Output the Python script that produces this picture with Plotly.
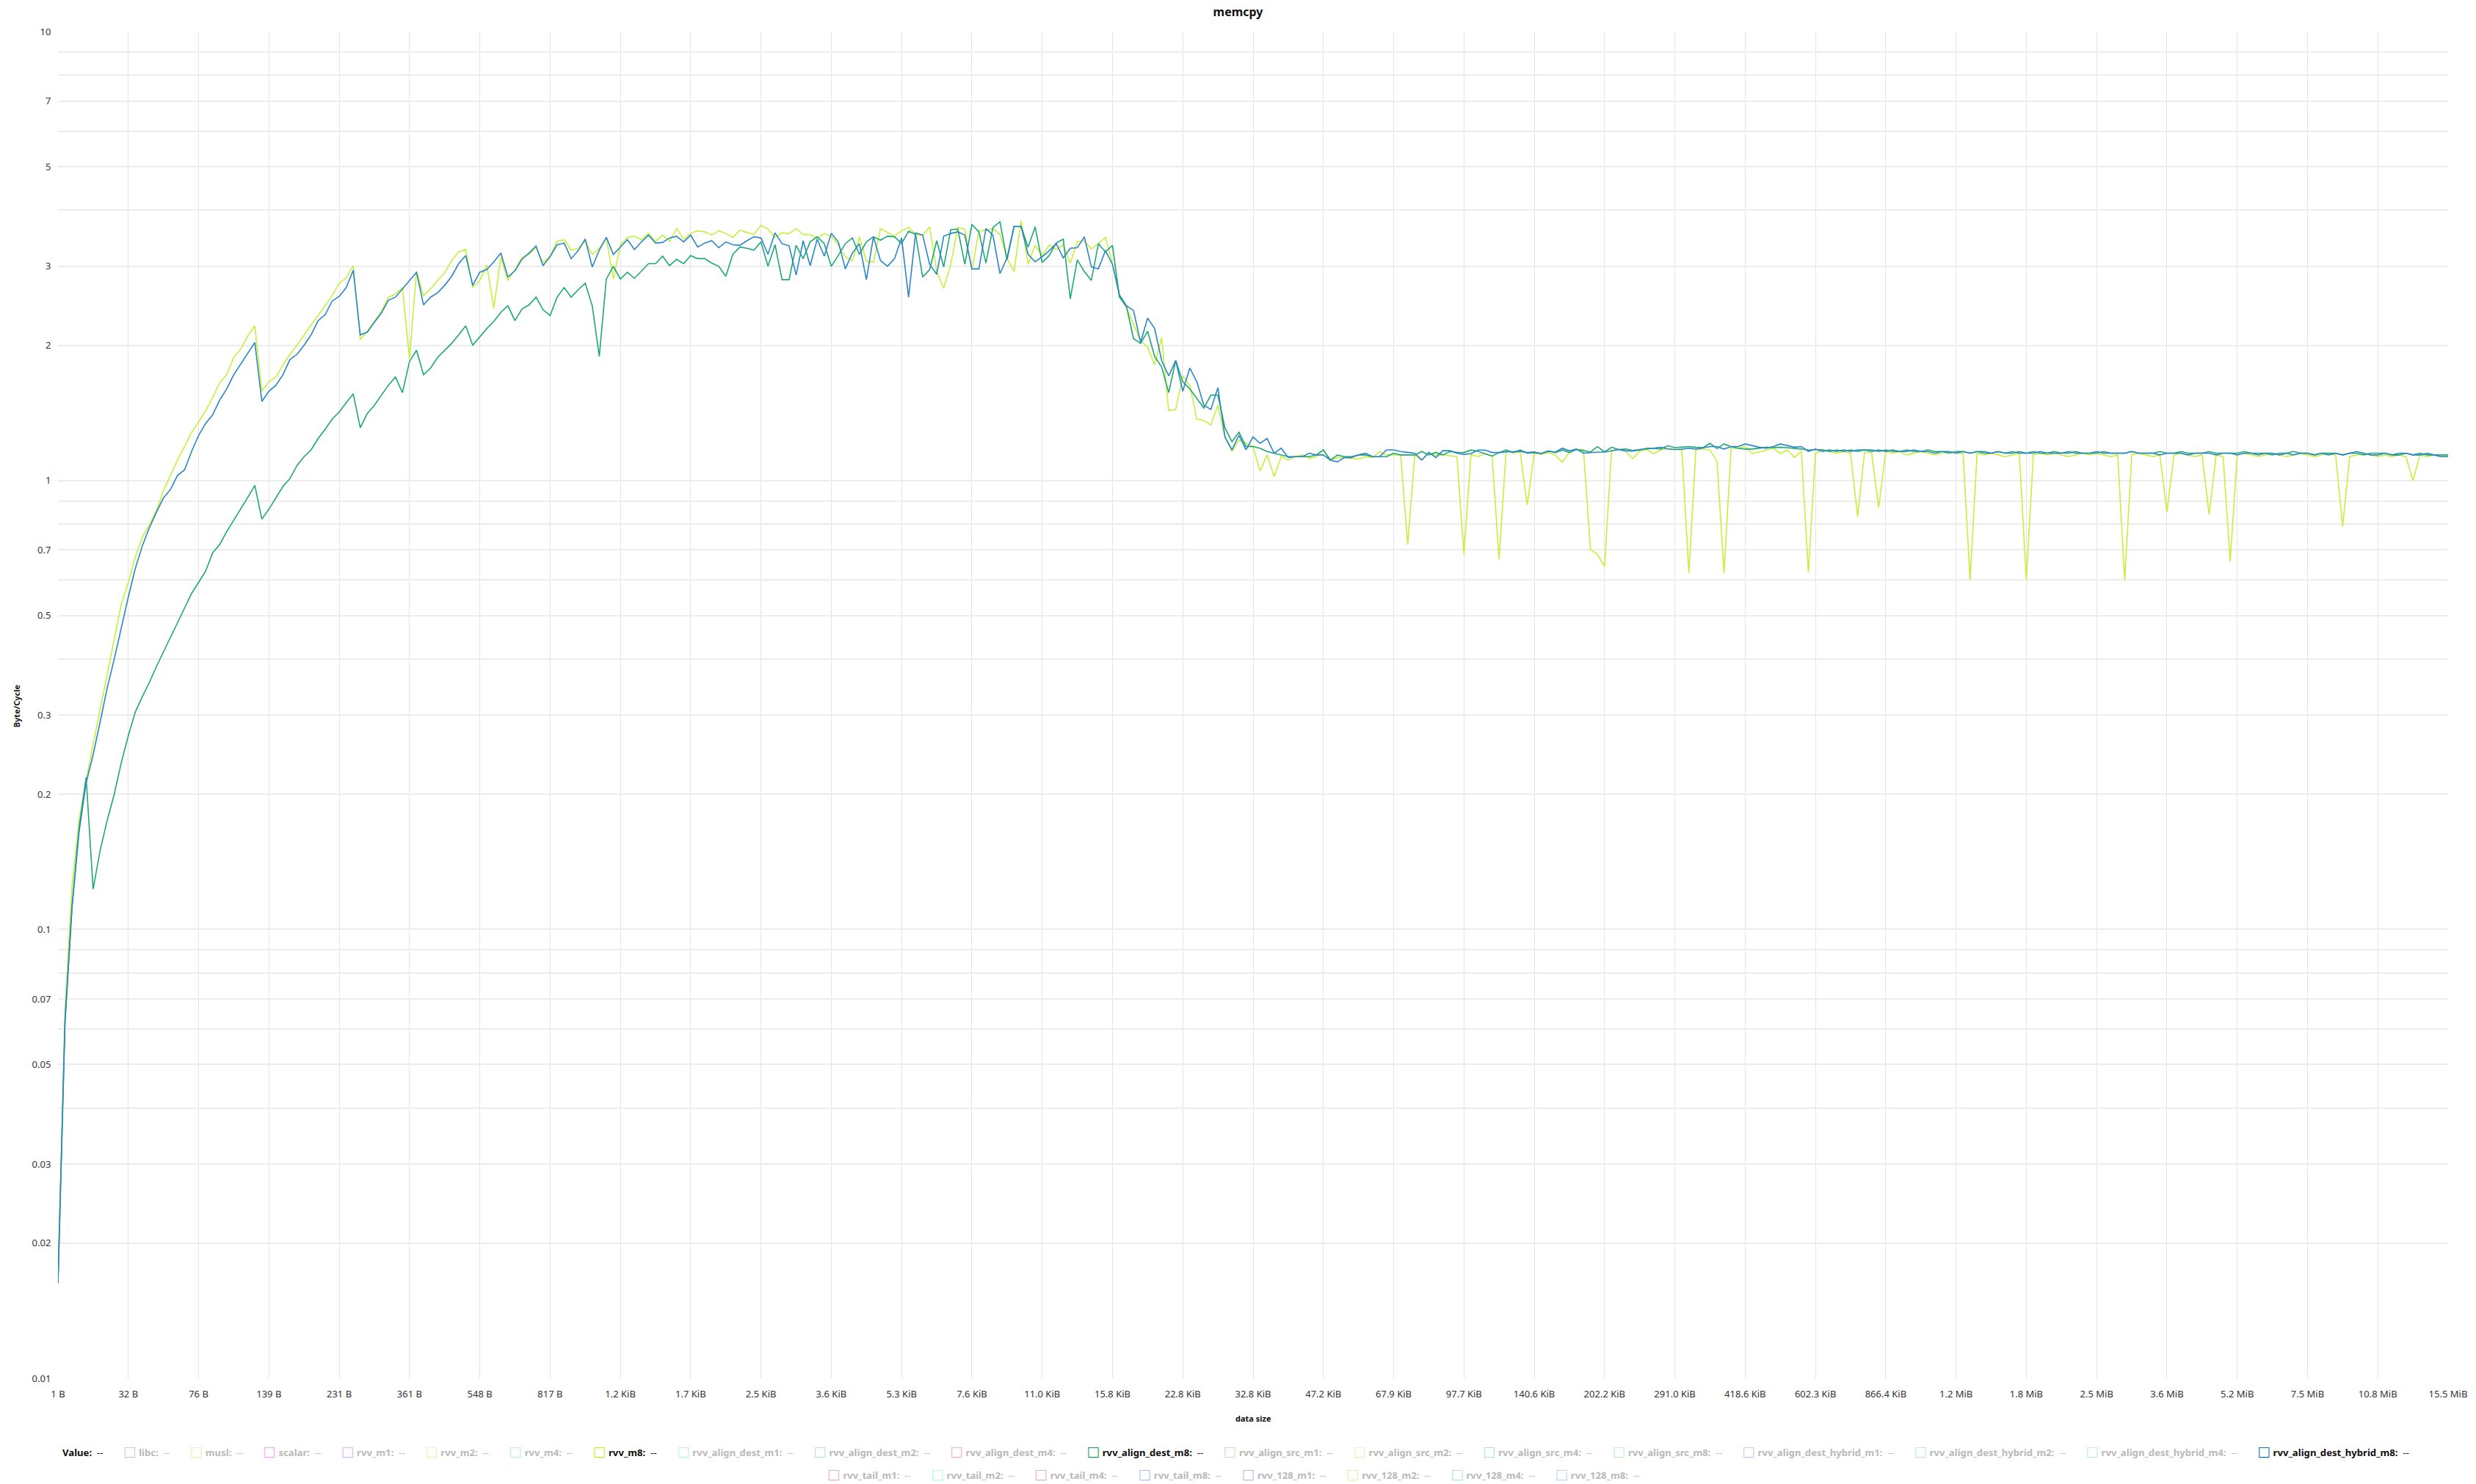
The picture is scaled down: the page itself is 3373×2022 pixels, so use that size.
import plotly.graph_objects as go

# ---------------- data ----------------
x_tick_labels = ["1 B", "32 B", "76 B", "139 B", "231 B", "361 B", "548 B", "817 B",
                 "1.2 KiB", "1.7 KiB", "2.5 KiB", "3.6 KiB", "5.3 KiB", "7.6 KiB", "11.0 KiB",
                 "15.8 KiB", "22.8 KiB", "32.8 KiB", "47.2 KiB", "67.9 KiB", "97.7 KiB",
                 "140.6 KiB", "202.2 KiB", "291.0 KiB", "418.6 KiB", "602.3 KiB", "866.4 KiB",
                 "1.2 MiB", "1.8 MiB", "2.5 MiB", "3.6 MiB", "5.2 MiB", "7.5 MiB", "10.8 MiB",
                 "15.5 MiB"]
points_per_label = 10

rvv_m8 = [
    0.0168, 0.066, 0.125, 0.175, 0.215, 0.26, 0.31, 0.37, 0.44, 0.53,
    0.593, 0.675, 0.747, 0.797, 0.857, 0.95, 1.026, 1.11, 1.19, 1.28,
    1.35, 1.43, 1.53, 1.65, 1.72, 1.88, 1.96, 2.10, 2.21, 1.58,
    1.66, 1.70, 1.81, 1.91, 2.00, 2.11, 2.22, 2.33, 2.45, 2.58,
    2.75, 2.83, 3.01, 2.06, 2.15, 2.26, 2.38, 2.56, 2.60, 2.69,
    1.87, 2.93, 2.58, 2.67, 2.79, 2.90, 3.09, 3.23, 3.27, 2.69,
    2.79, 3.02, 2.42, 3.14, 2.79, 2.95, 3.14, 3.19, 3.30, 3.06,
    3.16, 3.41, 3.44, 3.26, 3.29, 3.41, 3.19, 3.29, 3.47, 2.81,
    3.35, 3.48, 3.50, 3.44, 3.55, 3.41, 3.52, 3.41, 3.64, 3.45,
    3.55, 3.60, 3.58, 3.52, 3.60, 3.55, 3.48, 3.61, 3.57, 3.53,
    3.70, 3.63, 3.48, 3.56, 3.55, 3.64, 3.53, 3.53, 3.46, 3.55,
    3.49, 3.35, 3.15, 3.09, 3.49, 3.08, 3.06, 3.64, 3.57, 3.50,
    3.60, 3.66, 3.53, 3.52, 3.67, 2.92, 2.68, 3.03, 3.66, 3.63,
    2.94, 3.60, 3.61, 3.64, 3.53, 3.13, 2.92, 3.79, 3.03, 3.34,
    3.17, 3.35, 3.27, 3.35, 3.05, 3.40, 3.42, 3.28, 3.37, 3.48,
    3.05, 2.57, 2.42, 2.22, 2.05, 1.98, 1.81, 2.08, 1.43, 1.44,
    1.71, 1.63, 1.37, 1.36, 1.33, 1.47, 1.25, 1.16, 1.23, 1.21,
    1.19, 1.05, 1.14, 1.02, 1.13, 1.11, 1.13, 1.14, 1.12, 1.13,
    1.17, 1.11, 1.125, 1.125, 1.12, 1.115, 1.13, 1.125, 1.16, 1.14,
    1.14, 1.14, 0.72, 1.14, 1.11, 1.15, 1.14, 1.14, 1.135, 1.13,
    0.685, 1.143, 1.130, 1.148, 1.135, 0.668, 1.165, 1.154, 1.157, 0.882,
    1.150, 1.144, 1.154, 1.14, 1.098, 1.154, 1.172, 1.172, 0.703, 0.684,
    0.643, 1.169, 1.172, 1.161, 1.119, 1.161, 1.172, 1.148, 1.169, 1.178,
    1.172, 1.169, 0.622, 1.175, 1.175, 1.169, 1.104, 0.622, 1.18, 1.18,
    1.19, 1.148, 1.157, 1.169, 1.18, 1.148, 1.169, 1.126, 1.161, 0.624,
    1.148, 1.17, 1.16, 1.15, 1.16, 1.15, 0.83, 1.16, 1.15, 0.87,
    1.16, 1.15, 1.16, 1.14, 1.15, 1.16, 1.15, 1.14, 1.15, 1.16,
    1.15, 1.15, 0.60, 1.15, 1.14, 1.15, 1.14, 1.13, 1.14, 1.15,
    0.60, 1.14, 1.15, 1.14, 1.15, 1.14, 1.13, 1.14, 1.15, 1.14,
    1.15, 1.14, 1.13, 1.14, 0.60, 1.14, 1.15, 1.14, 1.13, 1.14,
    0.85, 1.14, 1.15, 1.14, 1.13, 1.14, 0.84, 1.14, 1.13, 0.66,
    1.14, 1.15, 1.14, 1.13, 1.14, 1.15, 1.14, 1.13, 1.14, 1.15,
    1.14, 1.13, 1.14, 1.15, 1.14, 0.79, 1.13, 1.14, 1.15, 1.14,
    1.13, 1.14, 1.13, 1.14, 1.13, 1.00, 1.14, 1.13, 1.14, 1.13,
    1.13,
]

rvv_align_dest_m8 = [
    0.0163, 0.063, 0.113, 0.168, 0.218, 0.123, 0.15, 0.175, 0.2, 0.235,
    0.27, 0.305, 0.33, 0.355, 0.385, 0.415, 0.45, 0.485, 0.522, 0.56,
    0.593, 0.628, 0.69, 0.72, 0.769, 0.815, 0.863, 0.917, 0.975, 0.82,
    0.863, 0.914, 0.97, 1.01, 1.08, 1.13, 1.17, 1.24, 1.30, 1.37,
    1.42, 1.49, 1.56, 1.31, 1.41, 1.47, 1.55, 1.63, 1.70, 1.57,
    1.84, 1.95, 1.72, 1.78, 1.88, 1.95, 2.02, 2.11, 2.21, 2.00,
    2.09, 2.18, 2.26, 2.37, 2.45, 2.27, 2.41, 2.46, 2.56, 2.40,
    2.33, 2.56, 2.69, 2.56, 2.66, 2.75, 2.45, 1.89, 2.81, 3.00,
    2.81, 2.91, 2.82, 2.93, 3.04, 3.04, 3.16, 3.01, 3.11, 3.04,
    3.17, 3.12, 3.12, 3.05, 3.00, 2.85, 3.19, 3.31, 3.29, 3.26,
    3.40, 3.00, 3.35, 2.80, 2.80, 3.34, 3.12, 3.40, 3.49, 3.37,
    3.00, 3.17, 3.37, 3.47, 3.19, 3.40, 3.49, 3.43, 3.50, 3.49,
    3.37, 3.59, 3.53, 2.84, 2.95, 3.42, 2.99, 3.62, 3.63, 3.03,
    3.72, 3.58, 3.05, 3.66, 3.77, 3.10, 3.68, 3.68, 3.31, 3.67,
    3.06, 3.17, 3.38, 3.45, 2.54, 3.10, 2.92, 2.79, 3.37, 3.23,
    3.34, 2.56, 2.44, 2.07, 2.02, 2.15, 1.89, 1.79, 1.57, 1.85,
    1.66, 1.60, 1.52, 1.45, 1.55, 1.55, 1.31, 1.22, 1.28, 1.19,
    1.19, 1.18, 1.16, 1.15, 1.14, 1.13, 1.13, 1.13, 1.13, 1.14,
    1.17, 1.11, 1.14, 1.13, 1.13, 1.14, 1.14, 1.13, 1.13, 1.13,
    1.15, 1.14, 1.14, 1.14, 1.16, 1.14, 1.155, 1.14, 1.16, 1.155,
    1.154, 1.169, 1.161, 1.148, 1.133, 1.154, 1.169, 1.154, 1.169, 1.15,
    1.154, 1.148, 1.164, 1.154, 1.169, 1.154, 1.172, 1.166, 1.157, 1.19,
    1.158, 1.186, 1.172, 1.175, 1.166, 1.172, 1.175, 1.18, 1.175, 1.195,
    1.183, 1.186, 1.19, 1.186, 1.183, 1.21, 1.178, 1.206, 1.19, 1.18,
    1.175, 1.175, 1.18, 1.186, 1.183, 1.186, 1.183, 1.18, 1.175, 1.169,
    1.172, 1.17, 1.16, 1.17, 1.16, 1.17, 1.16, 1.17, 1.17, 1.16,
    1.17, 1.16, 1.16, 1.17, 1.16, 1.16, 1.17, 1.16, 1.16, 1.15,
    1.16, 1.16, 1.15, 1.16, 1.16, 1.15, 1.16, 1.15, 1.16, 1.15,
    1.15, 1.16, 1.15, 1.15, 1.16, 1.15, 1.15, 1.16, 1.15, 1.15,
    1.15, 1.16, 1.15, 1.15, 1.15, 1.16, 1.15, 1.15, 1.15, 1.16,
    1.15, 1.15, 1.16, 1.15, 1.15, 1.15, 1.16, 1.15, 1.15, 1.15,
    1.15, 1.16, 1.15, 1.15, 1.15, 1.14, 1.15, 1.15, 1.16, 1.15,
    1.15, 1.14, 1.15, 1.15, 1.15, 1.14, 1.15, 1.15, 1.14, 1.15,
    1.15, 1.15, 1.14, 1.15, 1.15, 1.14, 1.15, 1.14, 1.14, 1.14,
    1.14,
]

rvv_align_dest_hybrid_m8 = [
    0.0163, 0.062, 0.112, 0.165, 0.212, 0.245, 0.29, 0.345, 0.40, 0.47,
    0.55, 0.637, 0.715, 0.785, 0.85, 0.914, 0.955, 1.026, 1.056, 1.16,
    1.26, 1.34, 1.40, 1.51, 1.60, 1.72, 1.82, 1.92, 2.03, 1.50,
    1.58, 1.63, 1.72, 1.86, 1.91, 2.00, 2.11, 2.27, 2.34, 2.51,
    2.57, 2.69, 2.94, 2.11, 2.14, 2.25, 2.36, 2.52, 2.56, 2.67,
    2.79, 2.91, 2.46, 2.56, 2.62, 2.72, 2.85, 3.04, 3.17, 2.72,
    2.91, 2.95, 3.07, 3.21, 2.84, 2.93, 3.11, 3.21, 3.33, 3.01,
    3.15, 3.35, 3.38, 3.12, 3.25, 3.45, 2.99, 3.26, 3.48, 3.19,
    3.31, 3.44, 3.27, 3.40, 3.52, 3.38, 3.39, 3.47, 3.50, 3.40,
    3.52, 3.31, 3.38, 3.42, 3.30, 3.40, 3.35, 3.34, 3.42, 3.49,
    3.47, 3.19, 3.56, 3.37, 3.33, 2.87, 3.42, 3.01, 3.45, 3.16,
    3.55, 3.40, 2.96, 3.21, 3.37, 2.80, 3.49, 3.09, 3.00, 3.12,
    3.47, 2.56, 3.56, 3.52, 3.03, 2.88, 3.50, 3.55, 3.58, 3.52,
    2.96, 2.96, 3.64, 3.52, 2.89, 3.13, 3.68, 3.68, 3.19, 3.07,
    3.15, 3.25, 3.37, 3.13, 3.29, 3.30, 3.49, 2.99, 2.96, 3.25,
    3.03, 2.59, 2.45, 2.39, 2.03, 2.30, 2.18, 1.85, 1.71, 1.85,
    1.58, 1.78, 1.66, 1.47, 1.44, 1.61, 1.25, 1.17, 1.26, 1.17,
    1.25, 1.21, 1.24, 1.15, 1.18, 1.125, 1.13, 1.13, 1.15, 1.14,
    1.14, 1.11, 1.10, 1.125, 1.125, 1.14, 1.15, 1.13, 1.13, 1.17,
    1.17, 1.16, 1.155, 1.15, 1.11, 1.155, 1.125, 1.165, 1.165, 1.15,
    1.143, 1.148, 1.169, 1.169, 1.154, 1.154, 1.158, 1.161, 1.161, 1.154,
    1.157, 1.148, 1.161, 1.157, 1.18, 1.164, 1.175, 1.15, 1.154, 1.157,
    1.157, 1.164, 1.172, 1.164, 1.164, 1.169, 1.18, 1.18, 1.186, 1.175,
    1.172, 1.175, 1.18, 1.175, 1.183, 1.19, 1.19, 1.175, 1.19, 1.19,
    1.206, 1.195, 1.186, 1.18, 1.19, 1.206, 1.195, 1.186, 1.19, 1.161,
    1.175, 1.16, 1.17, 1.16, 1.17, 1.16, 1.17, 1.17, 1.16, 1.17,
    1.16, 1.17, 1.16, 1.16, 1.17, 1.16, 1.16, 1.15, 1.16, 1.16,
    1.15, 1.16, 1.15, 1.16, 1.15, 1.15, 1.16, 1.15, 1.15, 1.16,
    1.15, 1.15, 1.16, 1.15, 1.15, 1.15, 1.16, 1.15, 1.15, 1.15,
    1.16, 1.15, 1.15, 1.15, 1.15, 1.16, 1.15, 1.15, 1.15, 1.14,
    1.15, 1.15, 1.15, 1.14, 1.15, 1.15, 1.15, 1.14, 1.15, 1.15,
    1.14, 1.15, 1.15, 1.14, 1.15, 1.15, 1.14, 1.15, 1.14, 1.15,
    1.15, 1.14, 1.15, 1.14, 1.15, 1.14, 1.15, 1.16, 1.15, 1.14,
    1.14, 1.15, 1.14, 1.14, 1.15, 1.14, 1.14, 1.15, 1.14, 1.13,
    1.13,
]

# legend entries (name, icon colour, shown)
legend_row1 = [
    ("libc", "#b4d5e0", False), ("musl", "#fce9b0", False), ("scalar", "#f5a3f0", False),
    ("rvv_m1", "#dab5f2", False), ("rvv_m2", "#edf0bb", False), ("rvv_m4", "#bdeedd", False),
    ("rvv_m8", "#bff01a", True), ("rvv_align_dest_m1", "#b5f5ea", False),
    ("rvv_align_dest_m2", "#b5e6d5", False), ("rvv_align_dest_m4", "#e9b5c0", False),
    ("rvv_align_dest_m8", "#10a064", True), ("rvv_align_src_m1", "#c2e6bd", False),
    ("rvv_align_src_m2", "#e6f2bf", False), ("rvv_align_src_m4", "#b5dfe8", False),
    ("rvv_align_src_m8", "#c4efc6", False), ("rvv_align_dest_hybrid_m1", "#d0c4f5", False),
    ("rvv_align_dest_hybrid_m2", "#c0e3f7", False), ("rvv_align_dest_hybrid_m4", "#c4f0c8", False),
    ("rvv_align_dest_hybrid_m8", "#1572b5", True),
]
legend_row2 = [
    ("rvv_tail_m1", "#f0b0a8", False), ("rvv_tail_m2", "#b5f5f0", False),
    ("rvv_tail_m4", "#f0aeb5", False), ("rvv_tail_m8", "#b0bff0", False),
    ("rvv_128_m1", "#d5aef0", False), ("rvv_128_m2", "#d8f7b0", False),
    ("rvv_128_m4", "#aee0ef", False), ("rvv_128_m8", "#bdd5f7", False),
]

series = [
    ("rvv_m8", rvv_m8, "#c6f03c"),
    ("rvv_align_dest_m8", rvv_align_dest_m8, "#1ea873"),
    ("rvv_align_dest_hybrid_m8", rvv_align_dest_hybrid_m8, "#2a86c8"),
]

# ---------------- figure ----------------
W, H = 3373, 2022
ML, MR, MT, MB = 79, 25, 43, 144
FONT = "Noto Sans, Open Sans, DejaVu Sans, sans-serif"

fig = go.Figure()
for name, vals, color in series:
    fig.add_trace(go.Scatter(
        x=list(range(len(vals))), y=vals, mode="lines", name=name,
        line=dict(color=color, width=1.6), showlegend=False,
    ))

# y ticks: gridline at every 1..9 x decade, labels at 1,2,3,5,7
y_tickvals, y_ticktext = [], []
for dec in (0.01, 0.1, 1):
    for m in range(1, 10):
        v = round(m * dec, 4)
        y_tickvals.append(v)
        y_ticktext.append(("%g" % v) if m in (1, 2, 3, 5, 7) else "")
y_tickvals.append(10)
y_ticktext.append("10")

n_points = len(rvv_m8)
x_tickvals = [i * points_per_label for i in range(len(x_tick_labels))]

fig.update_xaxes(
    range=[0, n_points - 1], tickvals=x_tickvals, ticktext=x_tick_labels,
    showgrid=True, gridcolor="#e4e4e4", gridwidth=1, zeroline=False, showline=False,
    ticks="outside", ticklen=9, tickcolor="rgba(0,0,0,0)", ticklabeloverflow="allow",
    tickfont=dict(family=FONT, size=13, color="#333333"),
)
fig.update_yaxes(
    type="log", range=[-2, 1], tickvals=y_tickvals, ticktext=y_ticktext,
    showgrid=True, gridcolor="#ececec", gridwidth=2, zeroline=False, showline=False,
    ticks="outside", ticklen=6, tickcolor="rgba(0,0,0,0)",
    tickfont=dict(family=FONT, size=13, color="#333333"),
)

plot_h = H - MT - MB
plot_w = W - ML - MR


def py(px_from_top):
    return (H - MB - px_from_top) / plot_h


def px(px_from_left):
    return (px_from_left - ML) / plot_w


def legend_item(name, color, active):
    tcol = "#111111" if active else "#b9b9b9"
    icon = '<span style="font-size:19px;color:%s"><b>\u25a1</b></span>' % color
    return (icon + "\u00a0" + '<span style="color:%s"><b>%s:</b>\u00a0\u00a0--</span>' % (tcol, name))


gap = "\u00a0" * 8
row1 = '<span style="color:#111111"><b>Value:</b>\u00a0\u00a0--</span>' + gap + gap.join(
    legend_item(*it) for it in legend_row1)
row2 = gap.join(legend_item(*it) for it in legend_row2)

annotations = [
    dict(text="<b>data size</b>", x=px(1714), y=py(1933), xref="paper", yref="paper",
         showarrow=False, font=dict(family=FONT, size=11, color="#111111"),
         xanchor="center", yanchor="middle"),
    dict(text="<b>Byte/Cycle</b>", x=px(23), y=py(962), xref="paper", yref="paper",
         showarrow=False, textangle=-90, font=dict(family=FONT, size=11, color="#111111"),
         xanchor="center", yanchor="middle"),
    dict(text=row1, x=px(1690), y=py(1977), xref="paper", yref="paper", showarrow=False,
         font=dict(family=FONT, size=13.15), xanchor="center", yanchor="middle"),
    dict(text=row2, x=px(W / 2), y=py(2008), xref="paper", yref="paper", showarrow=False,
         font=dict(family=FONT, size=13.15), xanchor="center", yanchor="middle"),
]

fig.update_layout(
    width=W, height=H,
    margin=dict(l=ML, r=MR, t=MT, b=MB),
    paper_bgcolor="white", plot_bgcolor="white",
    title=dict(text="<b>memcpy</b>", x=0.5, xanchor="center", y=1 - 16 / H, yanchor="middle",
               font=dict(family=FONT, size=16, color="#111111")),
    showlegend=False,
    annotations=annotations,
    hovermode=False,
)

fig.write_html(
    "out.html",
    config={"displayModeBar": False},
    post_script="document.body.style.margin='0px';document.body.style.overflow='hidden';",
)
